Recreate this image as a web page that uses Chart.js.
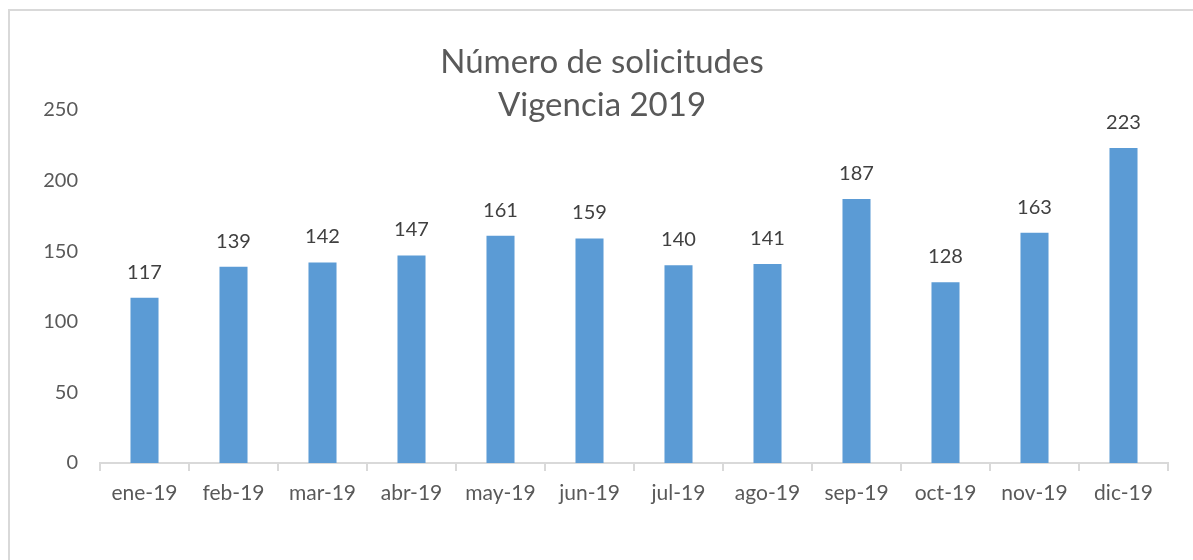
<!DOCTYPE html>
<html>
<head>
<meta charset="utf-8">
<script src="https://cdn.jsdelivr.net/npm/chart.js@4.4.0/dist/chart.umd.min.js"></script>
<style>
  html, body { margin: 0; padding: 0; background: #fff; }
  #wrap { position: relative; width: 1193px; height: 560px; overflow: hidden; }
  #frame { position: absolute; left: 8px; top: 9px; width: 1200px; height: 600px; border: 2px solid #d9d9d9; box-sizing: border-box; }
  canvas { position: absolute; left: 0; top: 0; }
</style>
</head>
<body>
<div id="wrap">
  <div id="frame"></div>
  <canvas id="c" width="1193" height="560"></canvas>
</div>
<script>
const categories = ["ene-19","feb-19","mar-19","abr-19","may-19","jun-19","jul-19","ago-19","sep-19","oct-19","nov-19","dic-19"];
const solicitudes = [117,139,142,147,161,159,140,141,187,128,163,223];
const titleLines = ["Número de solicitudes","Vigencia 2019"];
const yTicks = [0,50,100,150,200,250];

const FONT = "Lato, 'Open Sans', sans-serif";

const titlePlugin = {
  id: 'titleDraw',
  afterDraw(chart) {
    const ctx = chart.ctx;
    ctx.save();
    ctx.fillStyle = '#595959';
    ctx.font = '33px ' + FONT;
    ctx.textAlign = 'center';
    ctx.textBaseline = 'alphabetic';
    ctx.fillText(titleLines[0], 602, 73);
    ctx.fillText(titleLines[1], 602, 116);
    ctx.restore();
  }
};

const labelPlugin = {
  id: 'barLabels',
  afterDatasetsDraw(chart) {
    const ctx = chart.ctx;
    const meta = chart.getDatasetMeta(0);
    ctx.save();
    ctx.fillStyle = '#404040';
    ctx.font = '20px ' + FONT;
    ctx.textAlign = 'center';
    ctx.textBaseline = 'alphabetic';
    meta.data.forEach((bar, i) => {
      ctx.fillText(String(solicitudes[i]), bar.x, bar.y - 19);
    });
    ctx.restore();
  }
};

new Chart(document.getElementById('c'), {
  type: 'bar',
  data: {
    labels: categories,
    datasets: [{
      data: solicitudes,
      backgroundColor: '#5B9BD5',
      borderWidth: 0,
      categoryPercentage: 1.0,
      barPercentage: 0.315
    }]
  },
  options: {
    responsive: false,
    animation: false,
    devicePixelRatio: 1,
    layout: { padding: { top: 110, right: 25, left: 0, bottom: 0 } },
    plugins: {
      legend: { display: false },
      title: { display: false },
      tooltip: { enabled: false }
    },
    scales: {
      x: {
        grid: { display: true, drawOnChartArea: false, offset: true, color: '#d9d9d9', lineWidth: 2, tickLength: 8 },
        border: { display: true, color: '#d9d9d9', width: 2 },
        ticks: { color: '#595959', font: { family: FONT, size: 21 }, padding: 10, maxRotation: 0 },
        afterFit(s) { s.height = 97; }
      },
      y: {
        min: 0, max: 250,
        afterBuildTicks(s) { s.ticks = yTicks.map(v => ({ value: v })); },
        grid: { display: false },
        border: { display: false },
        ticks: { color: '#595959', font: { family: FONT, size: 20 }, padding: 14 },
        afterFit(s) { s.width = 100; }
      }
    }
  },
  plugins: [titlePlugin, labelPlugin]
});
</script>
</body>
</html>
